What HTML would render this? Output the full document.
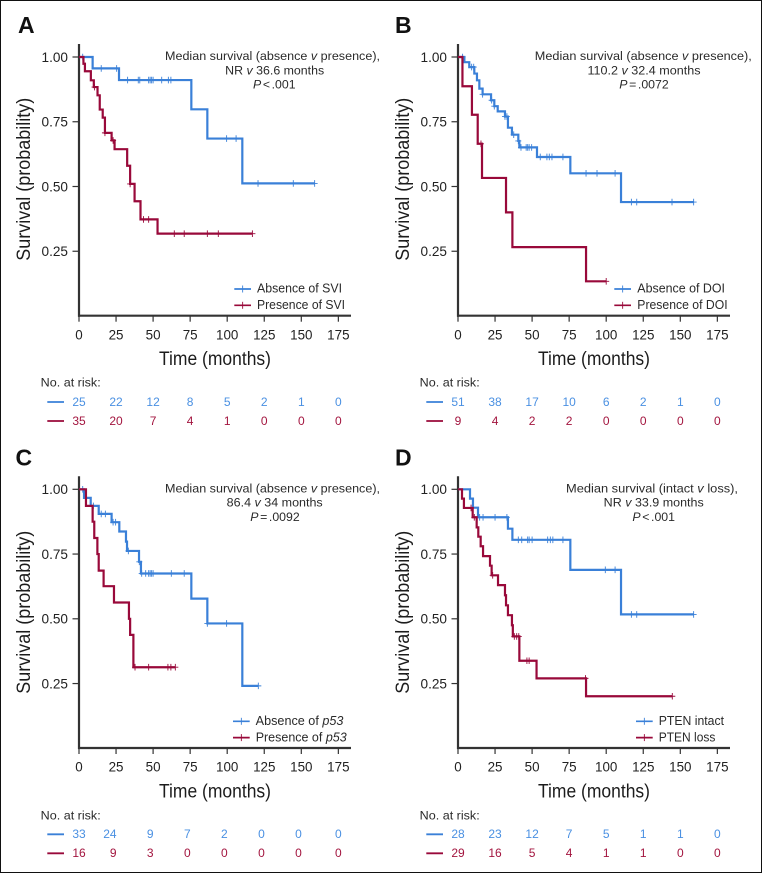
<!DOCTYPE html>
<html lang="en">
<head>
<meta charset="utf-8">
<title>Kaplan-Meier survival curves</title>
<style>
html,body{margin:0;padding:0;background:#fff;}
svg{display:block;}
text{font-family:"Liberation Sans",Arial,sans-serif;fill:#222;}
.letter{font-size:23px;font-weight:bold;fill:#111;}
.note{font-size:12.3px;text-anchor:middle;fill:#2a2a2a;}
.pval{font-size:12.3px;text-anchor:middle;fill:#2a2a2a;word-spacing:-1.8px;}
.legend{font-size:12.6px;fill:#2a2a2a;}
.ytitle{font-size:19.5px;fill:#1c1c1c;}
.xtitle{font-size:19.5px;text-anchor:middle;fill:#1c1c1c;}
.risk-title{font-size:12.3px;fill:#2a2a2a;}
</style>
</head>
<body>
<svg xmlns="http://www.w3.org/2000/svg" width="762" height="873" viewBox="0 0 762 873">
  <rect x="0.5" y="0.5" width="761" height="872" fill="#fff" stroke="#111" stroke-width="1"/>

  <g id="panel-a">
    <text class="letter" x="18" y="33">A</text>
    <text class="note" x="272.5" y="60" textLength="215" lengthAdjust="spacingAndGlyphs">Median survival (absence <tspan font-style="italic">v</tspan> presence),</text>
    <text class="note" x="274.7" y="74.5" textLength="99" lengthAdjust="spacingAndGlyphs">NR <tspan font-style="italic">v</tspan> 36.6 months</text>
    <text class="pval" x="274.3" y="88.7"><tspan font-style="italic">P</tspan> &lt; .001</text>
    <text class="ytitle" transform="translate(30,260.7) rotate(-90)" textLength="163" lengthAdjust="spacingAndGlyphs">Survival (probability)</text>
    <text class="xtitle" x="215" y="365" textLength="112" lengthAdjust="spacingAndGlyphs">Time (months)</text>
    <text class="legend" x="257" y="292.7" textLength="85" lengthAdjust="spacingAndGlyphs">Absence of SVI</text>
    <text class="legend" x="257" y="309" textLength="88" lengthAdjust="spacingAndGlyphs">Presence of SVI</text>
    <text class="risk-title" x="40.7" y="386.7" textLength="60" lengthAdjust="spacingAndGlyphs">No. at risk:</text>
  </g>

  <g id="panel-b">
    <text class="letter" x="395" y="33">B</text>
    <text class="note" x="643.3" y="60" textLength="217" lengthAdjust="spacingAndGlyphs">Median survival (absence <tspan font-style="italic">v</tspan> presence),</text>
    <text class="note" x="644" y="74.5" textLength="113" lengthAdjust="spacingAndGlyphs">110.2 <tspan font-style="italic">v</tspan> 32.4 months</text>
    <text class="pval" x="644" y="88.7"><tspan font-style="italic">P</tspan> = .0072</text>
    <text class="ytitle" transform="translate(409,260.7) rotate(-90)" textLength="163" lengthAdjust="spacingAndGlyphs">Survival (probability)</text>
    <text class="xtitle" x="594" y="365" textLength="112" lengthAdjust="spacingAndGlyphs">Time (months)</text>
    <text class="legend" x="637.3" y="292.7" textLength="87.7" lengthAdjust="spacingAndGlyphs">Absence of DOI</text>
    <text class="legend" x="637.3" y="309" textLength="90.3" lengthAdjust="spacingAndGlyphs">Presence of DOI</text>
    <text class="risk-title" x="419.7" y="386.7" textLength="60" lengthAdjust="spacingAndGlyphs">No. at risk:</text>
  </g>

  <g id="panel-c">
    <text class="letter" x="15.5" y="465.7">C</text>
    <text class="note" x="272.5" y="492.3" textLength="215" lengthAdjust="spacingAndGlyphs">Median survival (absence <tspan font-style="italic">v</tspan> presence),</text>
    <text class="note" x="274.7" y="506.5" textLength="96" lengthAdjust="spacingAndGlyphs">86.4 <tspan font-style="italic">v</tspan> 34 months</text>
    <text class="pval" x="275" y="521"><tspan font-style="italic">P</tspan> = .0092</text>
    <text class="ytitle" transform="translate(30,693.7) rotate(-90)" textLength="163" lengthAdjust="spacingAndGlyphs">Survival (probability)</text>
    <text class="xtitle" x="215" y="797.5" textLength="112" lengthAdjust="spacingAndGlyphs">Time (months)</text>
    <text class="legend" x="255.7" y="725" textLength="87.7" lengthAdjust="spacingAndGlyphs">Absence of <tspan font-style="italic">p53</tspan></text>
    <text class="legend" x="255.7" y="741.4" textLength="91" lengthAdjust="spacingAndGlyphs">Presence of <tspan font-style="italic">p53</tspan></text>
    <text class="risk-title" x="40.7" y="819.3" textLength="60" lengthAdjust="spacingAndGlyphs">No. at risk:</text>
  </g>

  <g id="panel-d">
    <text class="letter" x="395" y="465.7">D</text>
    <text class="note" x="652" y="492.3" textLength="172" lengthAdjust="spacingAndGlyphs">Median survival (intact <tspan font-style="italic">v</tspan> loss),</text>
    <text class="note" x="653.7" y="506.5" textLength="100" lengthAdjust="spacingAndGlyphs">NR <tspan font-style="italic">v</tspan> 33.9 months</text>
    <text class="pval" x="653.7" y="521"><tspan font-style="italic">P</tspan> &lt; .001</text>
    <text class="ytitle" transform="translate(409,693.7) rotate(-90)" textLength="163" lengthAdjust="spacingAndGlyphs">Survival (probability)</text>
    <text class="xtitle" x="594" y="797.5" textLength="112" lengthAdjust="spacingAndGlyphs">Time (months)</text>
    <text class="legend" x="658.7" y="725" textLength="65.3" lengthAdjust="spacingAndGlyphs">PTEN intact</text>
    <text class="legend" x="658.7" y="741.4" textLength="56.7" lengthAdjust="spacingAndGlyphs">PTEN loss</text>
    <text class="risk-title" x="419.7" y="819.3" textLength="60" lengthAdjust="spacingAndGlyphs">No. at risk:</text>
  </g>
</svg>

<script>
// Shared axis data
const xTickValues = [0, 25, 50, 75, 100, 125, 150, 175];
const yTickValues = [1.00, 0.75, 0.50, 0.25];

// Panel A: seminal vesicle invasion
const aBlueTimes = [9.2, 27, 75.8, 86.6, 110.2];
const aBlueSurv = [0.956, 0.911, 0.798, 0.685, 0.512];
const aBlueCensor = [2.5, 15, 25.4, 32.8, 40, 41, 47, 48, 49, 50, 55.8, 60.3, 62, 99.6, 106, 120.8, 144.6, 159];
const aRedTimes = [3, 4, 8, 10, 12.5, 14, 16, 17.5, 22, 24, 32.5, 34.5, 37.5, 41.5, 53];
const aRedSurv = [0.974, 0.945, 0.91, 0.884, 0.852, 0.797, 0.766, 0.707, 0.678, 0.644, 0.58, 0.51, 0.443, 0.373, 0.318];
const aRedCensor = [10.5, 17.5, 23, 34.5, 43.5, 47, 64.3, 71, 86.6, 94, 117];
const aBlueRisk = [25, 22, 12, 8, 5, 2, 1, 0];
const aRedRisk = [35, 20, 7, 4, 1, 0, 0, 0];

// Panel B: depth of invasion
const bBlueTimes = [4.3, 7.6, 11, 12.8, 14.4, 16.6, 22.3, 24.5, 26.8, 31.7, 33.7, 36.4, 40.7, 41.4, 53.3, 75.8, 110];
const bBlueSurv = [0.98, 0.961, 0.936, 0.91, 0.878, 0.856, 0.833, 0.81, 0.79, 0.77, 0.727, 0.70, 0.676, 0.651, 0.614, 0.551, 0.44];
const bBlueCensor = [3.1, 9.2, 10.6, 16.6, 22.7, 24.5, 31.7, 33, 37.6, 40.7, 42.5, 46, 47, 48, 49.7, 55.5, 60, 61.6, 63.4, 70.8, 86.4, 93.8, 106, 117, 120.6, 144.4, 159];
const bRedTimes = [3, 9.4, 13.3, 16.2, 32.4, 36.7, 86.4];
const bRedSurv = [0.887, 0.777, 0.665, 0.533, 0.40, 0.266, 0.134];
const bRedCensor = [15.5, 100];
const bBlueRisk = [51, 38, 17, 10, 6, 2, 1, 0];
const bRedRisk = [9, 4, 2, 2, 0, 0, 0, 0];

// Panel C: p53
const cBlueTimes = [3.4, 7.9, 13.3, 22, 27.2, 31.7, 32.4, 40.5, 41.8, 75.8, 86.6, 110.2];
const cBlueSurv = [0.967, 0.936, 0.905, 0.873, 0.837, 0.798, 0.762, 0.72, 0.675, 0.578, 0.482, 0.241];
const cBlueCensor = [2.5, 9.7, 15, 17.8, 23, 24.7, 33.3, 40.7, 42.3, 45, 47, 48, 49, 50, 62.3, 71, 86.6, 99.6, 121];
const cRedTimes = [4.7, 9.2, 10.3, 12.4, 13.3, 16.6, 23.6, 33.7, 34.5, 36.7];
const cRedSurv = [0.936, 0.875, 0.812, 0.75, 0.686, 0.626, 0.563, 0.50, 0.438, 0.313];
const cRedCensor = [37.8, 47, 60, 62, 65];
const cBlueRisk = [33, 24, 9, 7, 2, 0, 0, 0];
const cRedRisk = [16, 9, 3, 0, 0, 0, 0, 0];

// Panel D: PTEN
const dBlueTimes = [8.1, 10.1, 13.5, 33.7, 36.7, 75.8, 110];
const dBlueSurv = [0.964, 0.929, 0.892, 0.848, 0.805, 0.689, 0.517];
const dBlueCensor = [14.6, 16.9, 25, 33, 40.7, 43, 47, 48, 50, 60.5, 62.3, 64, 70.8, 99.4, 106, 117, 120.6, 159];
const dRedTimes = [2.7, 4, 9.9, 12.6, 13.7, 15.3, 16.9, 21.6, 22.7, 27, 31.7, 32.4, 33.7, 36.4, 37, 41.4, 53, 86.4];
const dRedSurv = [0.964, 0.928, 0.892, 0.853, 0.817, 0.78, 0.742, 0.705, 0.668, 0.63, 0.591, 0.552, 0.514, 0.475, 0.432, 0.338, 0.27, 0.201];
const dRedCensor = [8.8, 11, 23.4, 38, 39.6, 41, 46.5, 48, 86, 144.6];
const dBlueRisk = [28, 23, 12, 7, 5, 1, 1, 0];
const dRedRisk = [29, 16, 5, 4, 1, 1, 0, 0];

const BLUE = '#3a80d8';
const RED = '#99093a';
const BLUE_TEXT = '#4a90e2';
const RED_TEXT = '#a3153f';
const AXIS = '#333333';
const NS = 'http://www.w3.org/2000/svg';

function make(tag, parent, geometry) {
  const el = document.createElementNS(NS, tag);
  Object.keys(geometry).forEach(function (k) { el.setAttribute(k, geometry[k]); });
  parent.appendChild(el);
  return el;
}

function survivalAt(times, surv, t) {
  let s = 1;
  for (let i = 0; i < times.length; i++) {
    if (t >= times[i]) s = surv[i];
  }
  return s;
}

function drawPanel(p) {
  const root = document.getElementById(p.id);
  const xScale = function (t) { return p.x0 + t * 1.482; };
  const yScale = function (s) { return p.y1 + (1 - s) * 259; };
  const top = p.y1 - 13;
  const bottom = p.y1 + 258.7;
  const right = p.x0 + 272;

  const yAxis = make('line', root, { x1: p.x0, x2: p.x0, y1: top, y2: bottom + 1, stroke: AXIS, 'stroke-width': 2.2 });
  
  
  const xAxis = make('line', root, { x1: p.x0 - 1, x2: right, y1: bottom, y2: bottom, stroke: AXIS, 'stroke-width': 2.2 });
  
  

  yTickValues.forEach(function (v) {
    const tick = make('line', root, { x1: p.x0 - 6.5, x2: p.x0, y1: yScale(v), y2: yScale(v), stroke: AXIS, 'stroke-width': 1.2 });
    
    
    const label = make('text', root, { x: p.x0 - 11, y: yScale(v) + 4.8, 'text-anchor': 'end', 'font-size': 13.6 });
    
    
    label.textContent = v.toFixed(2);
  });

  xTickValues.forEach(function (v) {
    const tick = make('line', root, { x1: xScale(v), x2: xScale(v), y1: bottom, y2: bottom + 6, stroke: AXIS, 'stroke-width': 1.2 });
    
    
    const label = make('text', root, { x: xScale(v), y: bottom + 23.6, 'text-anchor': 'middle', 'font-size': 13.4 });
    
    
    label.textContent = v;
  });

  drawSeries(root, p.blue, BLUE, 'absence', xScale, yScale);
  drawSeries(root, p.red, RED, 'presence', xScale, yScale);

  // legend samples
  [[p.blue, BLUE, 0], [p.red, RED, 16.3]].forEach(function (row) {
    const y = p.y1 + 232 + row[2];
    const sample = make('line', root, { x1: p.legendX, x2: p.legendX + 16.7, y1: y, y2: y, stroke: row[1], 'stroke-width': 1.7 });
    
    
    const plus = make('line', root, { x1: p.legendX + 8.35, x2: p.legendX + 8.35, y1: y - 3.5, y2: y + 3.5, stroke: row[1], 'stroke-width': 0.9 });
    
    
  });

  // at-risk table
  [[p.blue.risk, BLUE, BLUE_TEXT, p.y1 + 345, 'risk-row-absence'], [p.red.risk, RED, RED_TEXT, p.y1 + 364, 'risk-row-presence']].forEach(function (row) {
    const dash = make('line', root, { x1: p.x0 - 31.7, x2: p.x0 - 15, y1: row[3], y2: row[3], stroke: row[1], 'stroke-width': 1.8 });
    
    
    row[0].forEach(function (n, i) {
      const endAligned = p.riskEndAligned && i > 0 && i < row[0].length - 1;
      const cell = make('text', root, { x: xScale(xTickValues[i]) + (endAligned ? 0.5 : 0), y: row[3] + 3.9, 'text-anchor': endAligned ? 'end' : 'middle', 'font-size': 12, fill: row[2] });
      cell.style.fill = row[2];
      
      
      cell.textContent = n;
    });
  });
}

function drawSeries(root, series, color, name, xScale, yScale) {
  const end = series.censor[series.censor.length - 1];
  let d = 'M' + xScale(0) + ' ' + yScale(1);
  series.times.forEach(function (t, i) {
    d += 'H' + xScale(t) + 'V' + yScale(series.surv[i]);
  });
  d += 'H' + xScale(end);
  const path = make('path', root, { d: d, fill: 'none', stroke: color, 'stroke-width': 2.2, 'stroke-linejoin': 'miter' });
  
  
  series.censor.forEach(function (t) {
    const x = xScale(t);
    const y = yScale(survivalAt(series.times, series.surv, t));
    const mark = make('path', root, { d: 'M' + x + ' ' + (y - 3.3) + 'V' + (y + 3.3) + 'M' + (x - 3) + ' ' + y + 'H' + (x + 3), fill: 'none', stroke: color, 'stroke-width': 0.9 });
    
    
  });
}

drawPanel({ id: 'panel-a', x0: 79, y1: 57, legendX: 234.3, riskEndAligned: false,
  blue: { times: aBlueTimes, surv: aBlueSurv, censor: aBlueCensor, risk: aBlueRisk },
  red: { times: aRedTimes, surv: aRedSurv, censor: aRedCensor, risk: aRedRisk } });
drawPanel({ id: 'panel-b', x0: 458, y1: 57, legendX: 614.3, riskEndAligned: false,
  blue: { times: bBlueTimes, surv: bBlueSurv, censor: bBlueCensor, risk: bBlueRisk },
  red: { times: bRedTimes, surv: bRedSurv, censor: bRedCensor, risk: bRedRisk } });
drawPanel({ id: 'panel-c', x0: 79, y1: 489.3, legendX: 233, riskEndAligned: true,
  blue: { times: cBlueTimes, surv: cBlueSurv, censor: cBlueCensor, risk: cBlueRisk },
  red: { times: cRedTimes, surv: cRedSurv, censor: cRedCensor, risk: cRedRisk } });
drawPanel({ id: 'panel-d', x0: 458, y1: 489.3, legendX: 636, riskEndAligned: false,
  blue: { times: dBlueTimes, surv: dBlueSurv, censor: dBlueCensor, risk: dBlueRisk },
  red: { times: dRedTimes, surv: dRedSurv, censor: dRedCensor, risk: dRedRisk } });
</script>
</body>
</html>
